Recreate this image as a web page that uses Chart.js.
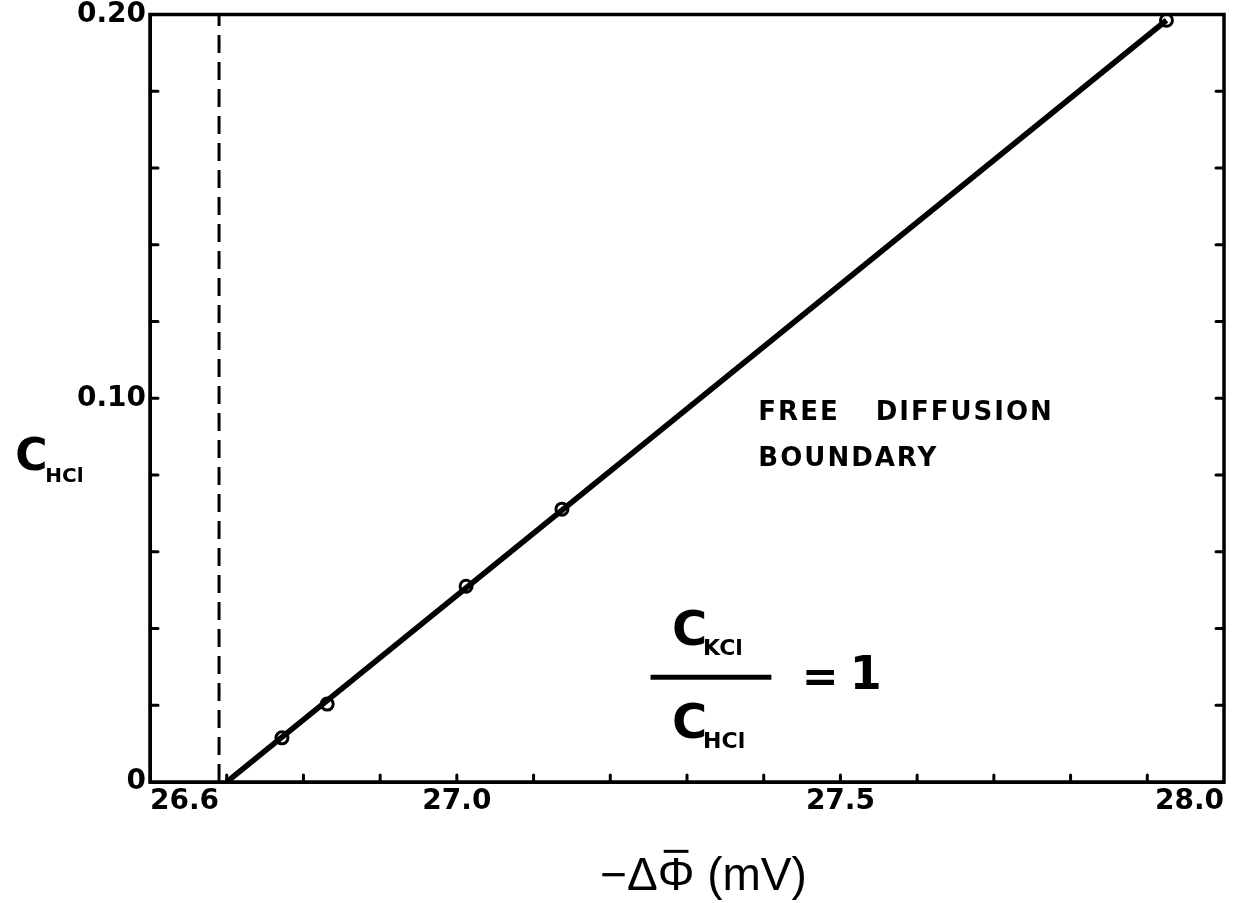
<!DOCTYPE html>
<html>
<head>
  <meta charset="utf-8" />
  <title>C HCl vs potential</title>
  <style>
    html, body { margin: 0; padding: 0; background: #fff; }
    #wrap { width: 1233px; height: 903px; position: relative; }
  </style>
</head>
<body>
  <div id="wrap"><canvas id="chart"></canvas></div>

  <script src="https://cdn.jsdelivr.net/npm/chart.js"></script>
  <script>
    // measured points (-dPhi in mV, C_HCl)
    const potential = [26.772, 26.831, 27.012, 27.137, 27.925];
    const cHCl = [0.0115, 0.0203, 0.0510, 0.0711, 0.1985];

    // straight line drawn through the points
    const fitX = [26.70, 27.925];
    const fitY = [0, 0.1985];

    // dashed vertical line (free diffusion limit)
    const dashX = [26.69, 26.69];
    const dashY = [0, 0.20];

    // labelled ticks
    const xTickValues = [26.6, 27.0, 27.5, 28.0];
    const xTickLabels = ['26.6', '27.0', '27.5', '28.0'];
    const yTickValues = [0, 0.10, 0.20];
    const yTickLabels = ['0', '0.10', '0.20'];

    const toPts = (xs, ys) => xs.map((x, i) => ({ x: x, y: ys[i] }));

    function labelFor(v, values, labels, dec) {
      const i = values.findIndex(t => t.toFixed(dec) === v.toFixed(dec));
      return i >= 0 ? labels[i] : '';
    }

    // inward tick marks + frame around the plot
    const framePlugin = {
      id: 'frame',
      afterDatasetsDraw(chart) {
        const { ctx, chartArea: a, scales: { x, y } } = chart;
        ctx.save();
        ctx.strokeStyle = '#000';
        ctx.lineWidth = 3;
        ctx.lineCap = 'round';
        ctx.beginPath();
        x.ticks.forEach(t => {
          const px = x.getPixelForValue(t.value);
          if (px <= a.left + 2 || px >= a.right - 2) return;
          ctx.moveTo(px, a.bottom);
          ctx.lineTo(px, a.bottom - 7);
        });
        y.ticks.forEach(t => {
          const py = y.getPixelForValue(t.value);
          if (py <= a.top + 2 || py >= a.bottom - 2) return;
          ctx.moveTo(a.left, py);
          ctx.lineTo(a.left + 8, py);
          ctx.moveTo(a.right, py);
          ctx.lineTo(a.right - 8, py);
        });
        ctx.stroke();
        ctx.lineWidth = 3.5;
        ctx.lineCap = 'butt';
        ctx.strokeRect(a.left, a.top, a.right - a.left, a.bottom - a.top);
        ctx.restore();
      }
    };

    // texts placed at data positions
    const textPlugin = {
      id: 'texts',
      afterDraw(chart) {
        const { ctx, scales: { x, y } } = chart;
        const X = v => x.getPixelForValue(v);
        const Y = v => y.getPixelForValue(v);
        ctx.save();
        ctx.fillStyle = '#000';
        ctx.textBaseline = 'alphabetic';

        // y axis title: C_HCl
        ctx.font = 'bold 44px "DejaVu Sans"';
        ctx.textAlign = 'left';
        ctx.fillText('C', X(26.4245), Y(0.0812));
        ctx.font = 'bold 20px "DejaVu Sans"';
        ctx.fillText('HCl', X(26.4635), Y(0.0781));

        // x axis title, bar over the Phi drawn by hand
        ctx.font = '46px "Liberation Sans"';
        const head = '\u2212\u0394';
        const full = head + '\u03A6 (mV)';
        const w = ctx.measureText(full).width;
        const x0 = X(27.3215) - w / 2;
        const base = Y(-0.0281);
        ctx.fillText(full, x0, base);
        const p0 = x0 + ctx.measureText(head).width;
        const p1 = x0 + ctx.measureText(head + '\u03A6').width;
        ctx.fillRect(p0 + 6, base - 40, p1 - p0 - 12, 3);

        // FREE DIFFUSION BOUNDARY
        ctx.font = 'bold 26px "DejaVu Sans"';
        ctx.textBaseline = 'middle';
        ctx.letterSpacing = '2px';
        ctx.fillText('FREE', X(27.393), Y(0.0961));
        ctx.fillText('DIFFUSION', X(27.546), Y(0.0961));
        ctx.fillText('BOUNDARY', X(27.393), Y(0.0841));
        ctx.letterSpacing = '0px';

        // C_KCl / C_HCl = 1
        ctx.textBaseline = 'alphabetic';
        ctx.font = 'bold 48px "DejaVu Sans"';
        ctx.fillText('C', X(27.2805), Y(0.0357));
        ctx.fillText('C', X(27.2805), Y(0.0115));
        ctx.font = 'bold 22px "DejaVu Sans"';
        ctx.fillText('KCl', X(27.321), Y(0.0331));
        ctx.fillText('HCl', X(27.321), Y(0.0089));
        ctx.fillRect(X(27.2525), Y(0.0273) - 2.5, X(27.41) - X(27.2525), 5);
        ctx.textAlign = 'center';
        ctx.textBaseline = 'middle';
        ctx.font = 'bold 44px "DejaVu Sans"';
        ctx.fillText('=', X(27.4735), Y(0.0268));
        ctx.font = 'bold 46px "DejaVu Sans"';
        ctx.fillText('1', X(27.533), Y(0.0273));
        ctx.restore();
      }
    };

    const tickFont = { family: 'DejaVu Sans', size: 28, weight: 'bold', lineHeight: 0.75 };

    new Chart(document.getElementById('chart'), {
      type: 'scatter',
      data: {
        datasets: [
          {
            type: 'line',
            data: toPts(fitX, fitY),
            borderColor: '#000',
            borderWidth: 5.5,
            pointRadius: 0,
            fill: false
          },
          {
            type: 'line',
            data: toPts(dashX, dashY),
            borderColor: '#000',
            borderWidth: 3,
            borderDash: [18, 9],
            pointRadius: 0,
            fill: false
          },
          {
            data: toPts(potential, cHCl),
            pointRadius: 6,
            pointBorderWidth: 3,
            pointBorderColor: '#000',
            pointBackgroundColor: '#fff'
          }
        ]
      },
      options: {
        responsive: true,
        maintainAspectRatio: false,
        animation: false,
        events: [],
        layout: { padding: { left: 0, right: 6, top: 9, bottom: 0 } },
        plugins: {
          legend: { display: false },
          tooltip: { enabled: false }
        },
        scales: {
          x: {
            type: 'linear',
            min: 26.6,
            max: 28.0,
            afterFit: s => { s.height = 121; },
            grid: { display: false, drawTicks: false },
            border: { display: true, color: '#000', width: 3 },
            ticks: {
              stepSize: 0.1,
              autoSkip: false,
              maxRotation: 0,
              align: 'inner',
              padding: 9,
              color: '#000',
              font: tickFont,
              callback: v => labelFor(v, xTickValues, xTickLabels, 1)
            }
          },
          y: {
            type: 'linear',
            min: 0,
            max: 0.20,
            afterFit: s => { s.width = 150; },
            grid: { display: false, drawTicks: false },
            border: { display: true, color: '#000', width: 3 },
            ticks: {
              stepSize: 0.02,
              autoSkip: false,
              padding: 4,
              color: '#000',
              font: tickFont,
              callback: v => labelFor(v, yTickValues, yTickLabels, 2)
            }
          }
        }
      },
      plugins: [framePlugin, textPlugin]
    });
  </script>
</body>
</html>
